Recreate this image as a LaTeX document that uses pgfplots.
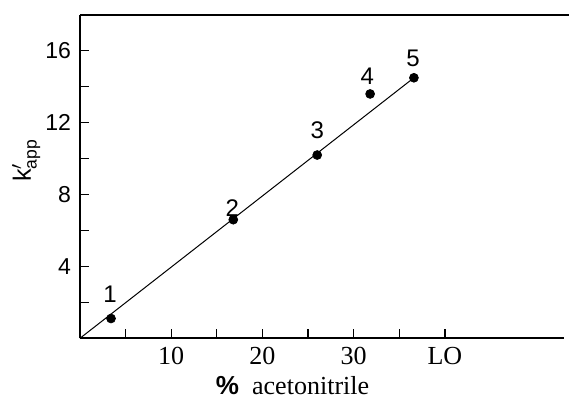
\documentclass[border=0pt]{standalone}
\usepackage{amsmath}
\usepackage{fontspec}
\setmainfont{Liberation Serif}
\setsansfont{Liberation Sans}
\usepackage{pgfplots}
\pgfplotsset{compat=1.18}

\begin{document}
\begin{tikzpicture}
\begin{axis}[
  scale only axis,
  width=241.5pt, height=161.5pt,
  xmin=0, xmax=53, ymin=0, ymax=18,
  axis x line=bottom, axis y line=left,
  axis line style={-},
  x axis line style={line width=1.1pt},
  y axis line style={line width=0.6pt},
  xtick={10,20,30,40},
  xticklabels={10,20,30,LO},
  minor xtick={5,15,25,35},
  ytick={4,8,12,16},
  minor ytick={2,6,10,14},
  tick align=inside,
  major tick length=4.5pt, minor tick length=4.5pt,
  tick style={black, line width=0.6pt},
  xticklabel style={font=\fontsize{13}{14}\selectfont, yshift=-1pt},
  yticklabel style={font=\sffamily\fontsize{11.5}{13}\selectfont, xshift=-1pt},
  /pgf/number format/assume math mode=true,
  clip=false,
]
% fitted line through origin
\addplot[black, line width=0.5pt] coordinates {(0,0) (36.6,14.5)};
% measured points
\addplot[only marks, mark=*, mark size=2.2pt, black] coordinates {
  (3.4,1.1) (16.8,6.6) (26.0,10.2) (31.8,13.6) (36.6,14.5)};

\begin{scope}[font=\sffamily\fontsize{12}{14}\selectfont]
\node at (axis cs:3.3,2.46) {1};
\node at (axis cs:16.7,7.26) {2};
\node at (axis cs:26.0,11.56) {3};
\node at (axis cs:31.5,14.6) {4};
\node at (axis cs:36.5,15.6) {5};
\end{scope}

\draw[line width=1.3pt] (rel axis cs:0,1.0) -- (axis cs:53.6,18);
\node[rotate=90, font=\sffamily\fontsize{12.5}{14}\selectfont] at (axis cs:-5.9,9.9) {k$'_{\textsf{app}}$};
\node[font=\fontsize{13}{15}\selectfont] at (axis cs:23.3,-2.65) {\textsf{\textbf{\%}}\ \ acetonitrile};

\coordinate (bl) at (axis cs:-8.77,-3.69);
\coordinate (tr) at (axis cs:53.6,18.83);
\end{axis}
\pgfresetboundingbox
\path[use as bounding box] (bl) rectangle (tr);
\end{tikzpicture}
\end{document}
